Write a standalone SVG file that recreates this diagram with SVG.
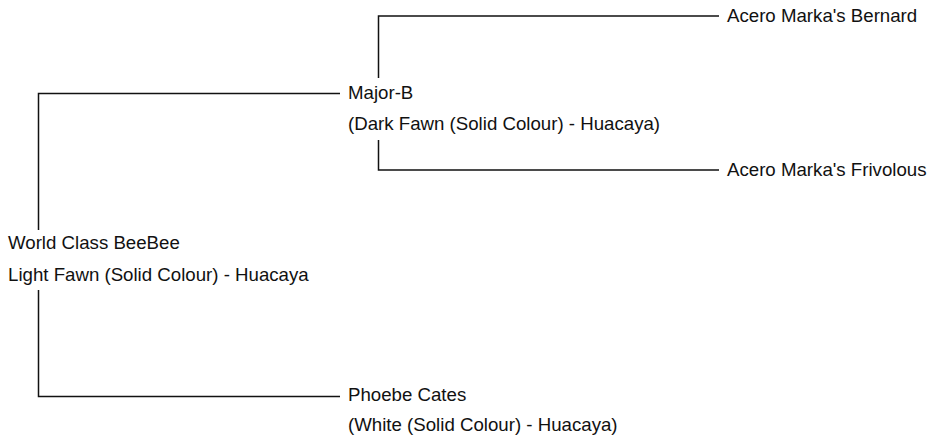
<svg xmlns="http://www.w3.org/2000/svg" width="927" height="436" viewBox="0 0 927 436">
<style>
text{font-family:"Liberation Sans",Arial,sans-serif;font-size:18.67px;fill:#111}
.c{fill:none;stroke:#111;stroke-width:1.5}
</style>
<rect width="927" height="436" fill="#fff"/>
<g id="connectors">
<path class="c" d="M38.5 230V93.5H340"/>
<path class="c" d="M38.5 290V396.5H340"/>
<path class="c" d="M378.5 78V16H719"/>
<path class="c" d="M378.5 140V170H719"/>
</g>
<g id="node-worldclass">
<text x="8" y="249">World Class BeeBee</text>
<text x="8" y="281">Light Fawn (Solid Colour) - Huacaya</text>
</g>
<g id="node-majorb">
<text x="348" y="99">Major-B</text>
<text x="348" y="130">(Dark Fawn (Solid Colour) - Huacaya)</text>
</g>
<g id="node-phoebe">
<text x="348" y="401">Phoebe Cates</text>
<text x="348" y="431">(White (Solid Colour) - Huacaya)</text>
</g>
<g id="node-bernard">
<text x="727" y="22">Acero Marka's Bernard</text>
</g>
<g id="node-frivolous">
<text x="727" y="176">Acero Marka's Frivolous</text>
</g>
</svg>
